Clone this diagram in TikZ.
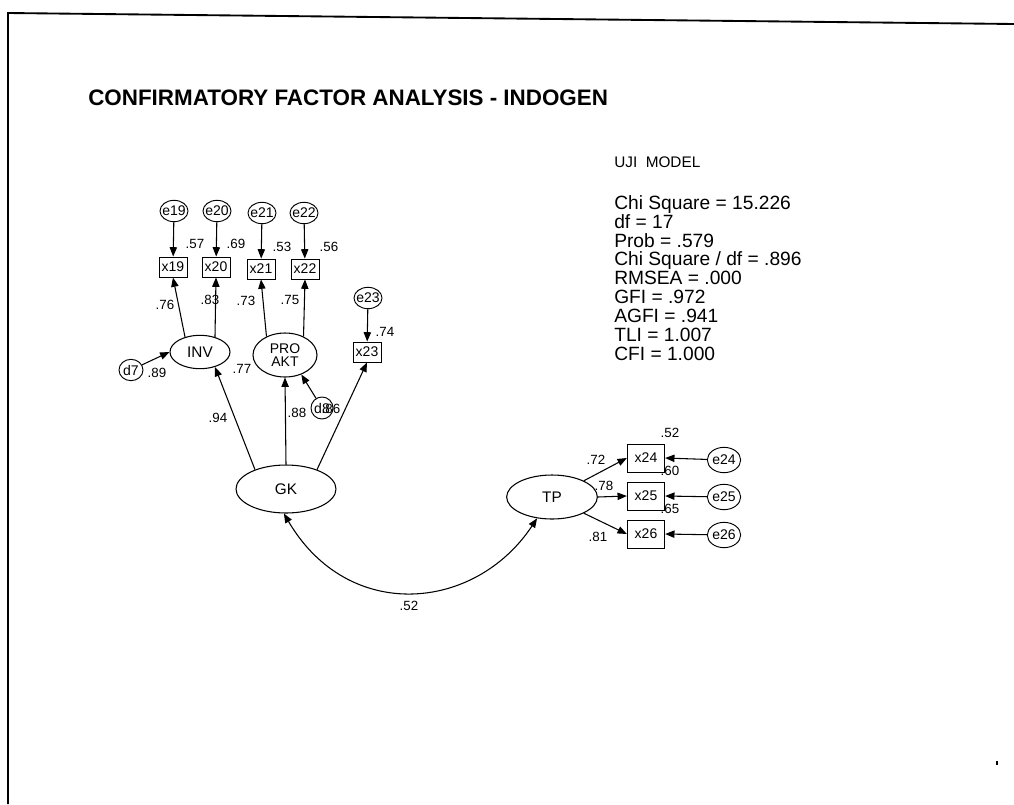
\documentclass[tikz,border=0pt]{standalone}
\usepackage{fontspec}
\setmainfont{Liberation Sans}
\usetikzlibrary{arrows.meta,shapes.geometric}
\begin{document}
\begin{tikzpicture}[x=0.75pt,y=-0.75pt,
  every node/.style={inner sep=0pt},
  err/.style={draw,ellipse,line width=0.7pt,minimum width=21pt,minimum height=16pt,inner sep=-1.5pt,font=\fontsize{10.5}{11}\selectfont},
  errb/.style={err,minimum width=25pt,minimum height=19pt},
  obs/.style={draw,rectangle,line width=0.7pt,minimum width=21pt,minimum height=15pt,font=\fontsize{10.5}{11}\selectfont},
  obsb/.style={obs,minimum width=28pt,minimum height=21pt},
  lat/.style={draw,ellipse,line width=0.8pt,inner sep=0pt,font=\fontsize{11.5}{11}\selectfont},
  lbl/.style={font=\fontsize{10}{10}\selectfont},
  arr/.style={-{Triangle[length=7pt,width=5.5pt]},line width=0.8pt},
  darr/.style={{Triangle[length=7pt,width=5.5pt]}-{Triangle[length=7pt,width=5.5pt]},line width=0.8pt}
]
\useasboundingbox (0,0) rectangle (1014,804);
% frame
\draw[line width=1.4pt] (8,804) -- (8,13) -- (1014,24);
\fill (996,761) rectangle (998,765);

% title and fit statistics
\node[anchor=west,font=\bfseries\fontsize{16.8}{18}\selectfont] (title) at (88,98) {CONFIRMATORY FACTOR ANALYSIS - INDOGEN};
\node[anchor=west,font=\fontsize{11.5}{13}\selectfont] (uji) at (614,162) {UJI\ \ MODEL};
\node[anchor=north west,align=left,font=\fontsize{14.4}{14.2}\selectfont] (stats) at (614,195) {Chi Square = 15.226\\df = 17\\Prob = .579\\Chi Square / df = .896\\RMSEA = .000\\GFI = .972\\AGFI = .941\\TLI = 1.007\\CFI = 1.000};

% error terms
\node[err] (e19) at (174,211) {e19};
\node[err] (e20) at (217,211) {e20};
\node[err] (e21) at (262,213) {e21};
\node[err] (e22) at (304,213) {e22};
\node[err] (e23) at (368,298) {e23};
\node[err,minimum width=18pt] (d7) at (131,370) {d7};
\node[err,minimum width=16.5pt,minimum height=16.5pt] (d8) at (322,408) {d8};
\node[lbl] (l86) at (331,409) {.86};

% indicators
\node[obs] (x19) at (173,267) {x19};
\node[obs] (x20) at (216,267) {x20};
\node[obs] (x21) at (261,269) {x21};
\node[obs] (x22) at (305,269) {x22};
\node[obs] (x23) at (367,352) {x23};
\node[obsb] (x24) at (646,458) {x24};
\node[obsb] (x25) at (646,496) {x25};
\node[obsb] (x26) at (646,534) {x26};
\node[errb] (e24) at (724,460) {e24};
\node[errb] (e25) at (724,497) {e25};
\node[errb] (e26) at (724,535) {e26};

% latent variables
\node[lat,minimum width=45pt,minimum height=25pt] (inv) at (200,352) {INV};
\node[lat,minimum width=48pt,minimum height=33pt,align=center,font=\fontsize{10.5}{10}\selectfont] (pro) at (285,355) {PRO\\AKT};
\node[lat,minimum width=75pt,minimum height=36pt] (gk) at (286,489) {GK};
\node[lat,minimum width=68pt,minimum height=33pt] (tp) at (552,497) {TP};

% arrows
\draw[arr] (e19) -- (x19);
\draw[arr] (e20) -- (x20);
\draw[arr] (e21) -- (x21);
\draw[arr] (e22) -- (x22);
\draw[arr] (e23) -- (x23);
\draw[arr] (inv.135) -- (x19.south);
\draw[arr] (inv.45) -- (x20.south);
\draw[arr] (pro.135) -- (x21.south);
\draw[arr] (pro.45) -- (x22.south);
\draw[arr] (d7) -- (inv.west);
\draw[arr] (d8) -- (pro.-50);
\draw[arr] (gk.148) -- (inv.-45);
\draw[arr] (gk.north) -- (pro.south);
\draw[arr] (gk.32) -- (x23.south);
\draw[arr] (tp.27) -- (x24.west);
\draw[arr] (tp.east) -- (x25.west);
\draw[arr] (tp.-27) -- (x26.west);
\draw[arr] (e24) -- (x24.east);
\draw[arr] (e25) -- (x25.east);
\draw[arr] (e26) -- (x26.east);
\draw[darr] (gk.265) .. controls (348,623) and (475,612) .. (tp.235);

% coefficients
\node[lbl] at (195,244) {.57};
\node[lbl] at (236,244) {.69};
\node[lbl] at (282,247) {.53};
\node[lbl] at (329,247) {.56};
\node[lbl] at (385,332) {.74};
\node[lbl] at (165,305) {.76};
\node[lbl] at (210,300) {.83};
\node[lbl] at (246,301) {.73};
\node[lbl] at (290,300) {.75};
\node[lbl] at (242,369) {.77};
\node[lbl] at (157,373) {.89};
\node[lbl] at (218,418) {.94};
\node[lbl] at (297,413) {.88};
\node[lbl] at (596,460) {.72};
\node[lbl] at (604,486) {.78};
\node[lbl] at (598,537) {.81};
\node[lbl] at (670,433) {.52};
\node[lbl] at (670,471) {.60};
\node[lbl] at (670,509) {.65};
\node[lbl] at (409,606) {.52};
\end{tikzpicture}
\end{document}
